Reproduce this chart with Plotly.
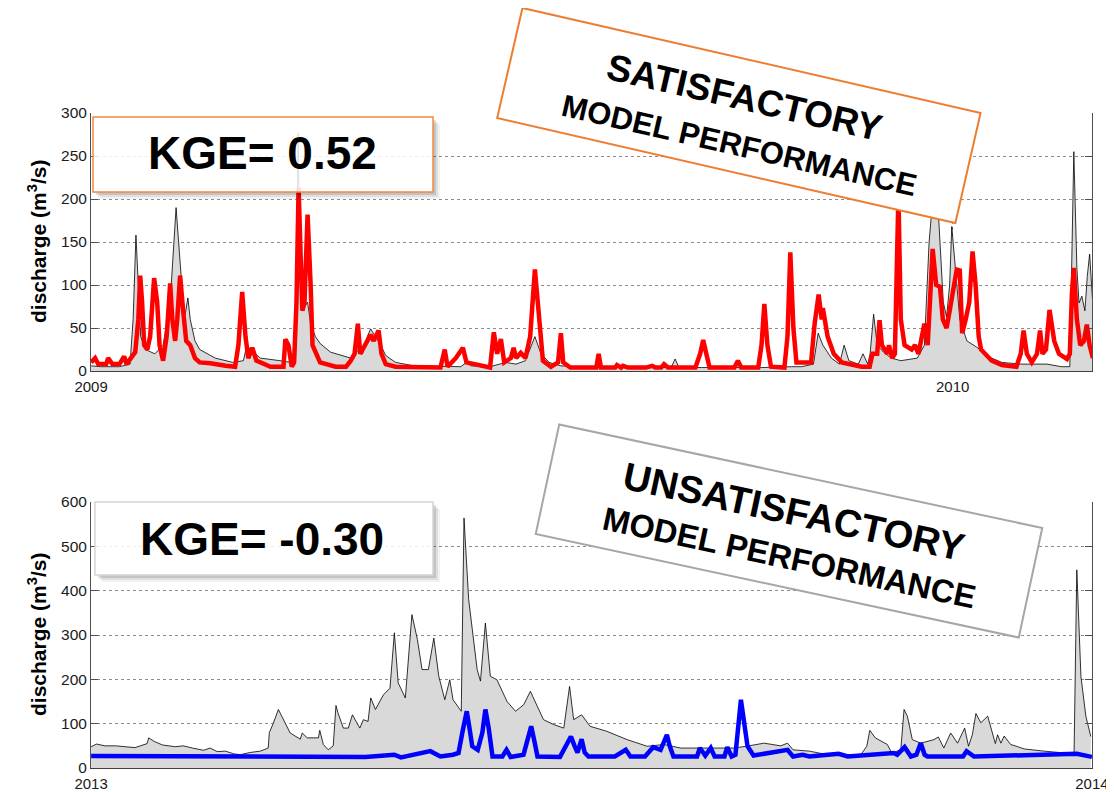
import pandas as pd
import plotly.graph_objects as go

# ---------------- DATA ----------------
# Top panel: 2009-01-01 .. 2010-03-01 (day offsets from 2009-01-01)
top_obs_days = [0, 4, 12, 16.5, 17.8, 19, 20, 21, 23, 27, 30.5, 33.5, 36, 38, 39.5, 41, 42, 44, 46,
                52.6, 60, 64.5, 66, 67.5, 71.7, 80, 84.5, 86.6, 87.7, 88.7, 89.5, 91.7, 93, 95, 97,
                101.4, 108, 110, 112, 113.3, 115, 117, 118.4, 120.5, 122.7, 124.8, 129, 136.7, 148,
                156.6, 159, 161, 169, 175.7, 180, 184, 188, 190.6, 194, 199, 212, 233, 245.7, 247.4,
                249, 258.5, 284, 296.7, 301, 306, 308, 310, 313.6, 317, 319, 321, 325, 327, 329, 330,
                331.5, 333, 335.7, 339, 343, 350, 353, 355, 357, 359, 361, 362.4, 363.7, 364.6, 366,
                368, 371, 375, 381.5, 385.8, 394, 398.5, 405, 411, 414.6, 416.3, 417.6, 418.5, 419.7,
                421, 422, 423, 424, 424.4]
top_obs_q = [6, 5, 5, 8, 60, 158, 100, 40, 25, 20, 30, 80, 190, 120, 60, 85, 60, 35, 25,
             15, 10, 12, 30, 25, 15, 12, 10, 15, 277, 100, 70, 80, 55, 40, 32,
             22, 16, 15, 20, 25, 20, 40, 49, 40, 30, 18, 10, 6, 5,
             5, 10, 6, 5, 10, 8, 12, 40, 20, 10, 6, 4, 4, 4, 14,
             4, 4, 4, 5, 5, 8, 44, 30, 15, 8, 30, 12, 8, 20, 8, 20,
             66, 30, 22, 15, 12, 15, 30, 150, 215, 180, 80, 63, 100, 168, 120,
             60, 35, 28, 15, 10, 8, 8, 8, 5, 5, 255, 120, 79, 87,
             70, 110, 136, 90, 75]

top_sim_days = [0, 1.7, 3, 6.4, 7.2, 9, 12, 14, 15, 17.4, 18.7, 20, 20.8, 21.6, 22.5, 23.8, 25, 26.7,
                28, 29, 30.5, 32, 33.5, 34.4, 35.6, 36.5, 37.7, 39, 40.3, 42, 44, 46, 50.5, 57, 61,
                62.4, 64, 65.4, 66.6, 68.3, 70, 76, 81.5, 82.3, 83.6, 85, 86, 87, 87.9, 88.7, 89.5,
                90.4, 91.7, 93, 93.8, 97, 103.6, 108, 110, 111.6, 113, 114, 116, 118.4, 119.7, 121.8,
                123, 124.8, 129, 148, 149.8, 151, 154.5, 157.5, 159, 169, 170.6, 172, 173.6, 175,
                177.8, 179, 180, 182, 184, 186, 188, 189.7, 191.4, 194.8, 197.8, 199, 200, 203, 214,
                215, 216, 222, 222.8, 224.5, 225.3, 227.5, 235, 237.7, 239, 241.5, 242.7, 244.4, 256,
                258, 259.3, 260.6, 262, 272.5, 274, 275.4, 282.6, 284, 285.2, 286.5, 288, 293.7, 295,
                296.2, 297.5, 298.8, 305, 306.5, 308.2, 309.5, 310, 312, 314.6, 318, 326.4, 329.8,
                331, 333, 334, 335, 337.3, 338, 339.4, 340.5, 342, 343, 344.6, 347.6, 349, 350.5, 352,
                353, 354.4, 355.7, 356.5, 358, 359.6, 360.8, 362.4, 363.7, 365.4, 366.7, 368, 369,
                370.5, 372, 373.4, 374.7, 376, 377, 381.5, 385.8, 392, 393.8, 395, 396.4, 398.5,
                400.7, 402, 403, 404.5, 406, 408, 410, 413.4, 414.6, 415.5, 416.3, 417.6, 419, 420.6,
                421.8, 423, 424.4]
top_sim_q = [10, 15, 8, 8, 15, 8, 8, 17, 8, 18, 22, 60, 111, 80, 30, 25, 40, 108,
             80, 30, 12, 40, 102, 60, 35, 60, 111, 70, 35, 30, 15, 10, 9, 6, 5,
             30, 92, 40, 15, 27, 12, 5, 5, 37, 30, 5, 10, 80, 213, 140, 70,
             80, 182, 100, 30, 10, 5, 5, 12, 20, 55, 20, 30, 42, 35, 47,
             20, 8, 5, 4, 25, 5, 15, 27, 10, 4, 45, 20, 37, 10,
             15, 27, 15, 21, 15, 40, 118, 60, 12, 5, 10, 44, 10, 4, 4,
             20, 4, 4, 7, 4, 6, 4, 4, 6, 4, 4, 8, 4, 4,
             20, 36, 20, 4, 4, 12, 4, 4, 30, 78, 30, 5, 4, 40,
             138, 50, 10, 10, 55, 89, 60, 73, 40, 20, 10, 5, 5,
             20, 20, 59, 30, 20, 30, 15, 20, 205, 60, 30, 25, 30, 20, 40,
             55, 30, 90, 142, 100, 98, 60, 50, 70, 100, 118, 117, 44,
             60, 80, 139, 100, 40, 25, 12, 7, 5, 20, 47, 20, 10,
             20, 47, 20, 25, 71, 35, 20, 14, 20, 90, 120, 60, 30, 35,
             54, 30, 15]

# Bottom panel: 2013-01-01 .. 2014-01-01 (day offsets from 2013-01-01)
bot_obs_days = [0, 2, 5, 9, 12.4, 16, 20.4, 21, 23, 26, 30.7, 33.6, 37, 41, 43.4, 46, 49, 52, 54.4,
                58, 61.7, 64.6, 65, 66.4, 68.3, 70, 72.6, 76.3, 77, 78.8, 82.9, 83.4, 84.7, 86.5,
                88.3, 89.3, 90, 92, 93.8, 95.3, 98, 99.3, 101, 102, 103.7, 106.6, 109, 110.6, 112,
                114.6, 117, 119, 120.7, 123, 125, 126.8, 129, 130.8, 132, 135, 136, 137.7, 140.8,
                142, 143.8, 145.6, 148, 151.7, 154.8, 157.8, 160.2, 165, 168.7, 172.4, 174.5, 176,
                178.9, 182, 188, 195.5, 202.8, 209, 215, 221, 227, 234.4, 239, 245.4, 251.5, 254,
                256, 262, 268.5, 280.7, 282.9, 284, 286, 290.4, 292, 295.3, 296.5, 297.7, 299.5,
                302.6, 307.4, 309, 311, 313.5, 316, 318.6, 320, 321.4, 322.7, 324.5, 327, 329,
                329.8, 330.6, 331.8, 333, 335.4, 337, 340.3, 347.6, 353.7, 358.5, 359.5, 361,
                362.8, 364.6]
bot_obs_q = [48, 54, 50, 50, 48, 46, 55, 68, 60, 52, 48, 50, 45, 40, 45, 37, 38, 32, 30,
             35, 38, 45, 80, 100, 132, 110, 79, 65, 79, 68, 68, 85, 53, 41,
             50, 141, 125, 90, 90, 120, 90, 109, 105, 158, 132, 165, 180, 305, 192,
             158, 346, 290, 222, 222, 293, 207, 154, 199, 154, 128, 564, 380, 222,
             196, 327, 207, 199, 150, 128, 143, 173, 109, 98, 90, 184, 109,
             120, 94, 83, 64, 49, 53, 45, 45, 45, 45, 49, 56, 50, 56,
             41, 38, 30, 30, 49, 85, 68, 53, 34, 41, 132, 117, 64,
             56, 64, 70, 45, 79, 56, 90, 49, 75, 123, 102, 117, 71,
             55, 75, 56, 72, 53, 50, 43, 38, 34, 32, 447, 207,
             117, 71]

bot_sim_days = [0, 60, 100, 110.6, 113, 123.7, 127.4, 132, 134, 135.4, 137, 138, 139, 141, 142.7,
                143.8, 145, 146.4, 150, 151.5, 153, 157.7, 159, 160.5, 161.7, 162.8, 171, 173.7,
                175, 176.3, 177.4, 178.9, 180, 181.4, 191, 195, 196.7, 202, 205, 207.7, 209, 210,
                211, 212.4, 221, 222, 224, 226, 227.4, 231, 232, 233.6, 235, 236, 237, 238, 239.4,
                241.6, 254, 256, 259.5, 262, 272.6, 276, 292.7, 294, 296.7, 299, 301, 302.6, 304,
                305, 318, 319.3, 322, 359.5, 365]
bot_sim_q = [27, 25, 25, 30, 24, 38, 26, 30, 34, 80, 128, 90, 49, 41, 80,
             132, 90, 26, 26, 41, 25, 30, 60, 94, 60, 26, 25, 55,
             71, 50, 35, 65, 35, 26, 26, 41, 26, 26, 47, 41, 60, 75,
             50, 26, 26, 45, 28, 45, 26, 26, 47, 26, 30, 100, 154, 110, 49,
             28, 41, 26, 30, 26, 32, 26, 34, 30, 47, 26, 30, 56, 30,
             26, 26, 38, 26, 32, 25]

top_start, top_end = "2009-01-01", "2010-03-01"
bot_start, bot_end = "2013-01-01", "2014-01-01"
top_kge = "KGE= 0.52"
bot_kge = "KGE= -0.30"
top_verdict = ("SATISFACTORY", "MODEL PERFORMANCE")
bot_verdict = ("UNSATISFACTORY", "MODEL PERFORMANCE")
ytitle = "<b>discharge (m<sup>3</sup>/s)</b>"


def to_dates(start, days):
    return pd.Timestamp(start) + pd.to_timedelta(days, unit="D")


# ---------------- LAYOUT HELPERS ----------------
# the page body adds an 8px margin, so the figure is made 8px smaller and
# all screen positions below are converted into figure coordinates
OFF = 8
W, H = 1114 - OFF, 792 - OFF
PLOT_L, PLOT_R, PLOT_T, PLOT_B = 91, 1092, 113, 768      # screen pixels of the plot area
ML, MT = PLOT_L - OFF, PLOT_T - OFF
MR, MB = W - (PLOT_R - OFF), H - (PLOT_B - OFF)
PW, PH = PLOT_R - PLOT_L, PLOT_B - PLOT_T


def px(xs):
    return (xs - PLOT_L) / PW


def py(ys):
    return (PLOT_B - ys) / PH


FONT = "Liberation Sans, Arial, sans-serif"
OBS_FILL = "#D9D9D9"

fig = go.Figure()

fig.add_trace(go.Scatter(x=to_dates(top_start, top_obs_days), y=top_obs_q, mode="lines",
                         line=dict(color="black", width=0.8), fill="tozeroy",
                         fillcolor=OBS_FILL, xaxis="x", yaxis="y", showlegend=False))
fig.add_trace(go.Scatter(x=to_dates(top_start, top_sim_days), y=top_sim_q, mode="lines",
                         line=dict(color="#FF0000", width=4.5), xaxis="x", yaxis="y",
                         showlegend=False))
fig.add_trace(go.Scatter(x=to_dates(bot_start, bot_obs_days), y=bot_obs_q, mode="lines",
                         line=dict(color="black", width=0.8), fill="tozeroy",
                         fillcolor=OBS_FILL, xaxis="x2", yaxis="y2", showlegend=False))
fig.add_trace(go.Scatter(x=to_dates(bot_start, bot_sim_days), y=bot_sim_q, mode="lines",
                         line=dict(color="#0000FF", width=4.5), xaxis="x2", yaxis="y2",
                         showlegend=False))

common_x = dict(showgrid=True, griddash="dot", gridcolor="#8c8c8c", gridwidth=1,
                showline=True, linecolor="#404040", linewidth=1, mirror=False,
                ticks="", tickformat="%Y", dtick="M12", automargin=False,
                tickfont=dict(family=FONT, size=15, color="#1a1a1a"),
                zeroline=False, ticklabelstandoff=2, ticklabeloverflow="allow")
common_y = dict(showgrid=True, griddash="dot", gridcolor="#8c8c8c", gridwidth=1,
                showline=True, linecolor="#505050", linewidth=1, mirror="allticks",
                ticks="inside", ticklen=7, tickcolor="#505050", automargin=False,
                tickfont=dict(family=FONT, size=15.5, color="#1a1a1a"),
                zeroline=False)

fig.update_layout(
    width=W, height=H,
    margin=dict(l=ML, r=MR, t=MT, b=MB),
    paper_bgcolor="white", plot_bgcolor="white",
    xaxis=dict(domain=[0, 1], anchor="y",
               range=[pd.Timestamp(top_start) - pd.Timedelta(hours=1), top_end], **common_x),
    yaxis=dict(domain=[py(371), 1], anchor="x", range=[0, 300], dtick=50, **common_y),
    xaxis2=dict(domain=[0, 1], anchor="y2",
                range=[pd.Timestamp(bot_start) - pd.Timedelta(hours=1),
                       pd.Timestamp(bot_end) + pd.Timedelta(hours=1)], **common_x),
    yaxis2=dict(domain=[0, py(502)], anchor="x2", range=[0, 600], dtick=100, **common_y),
)

shapes = []
annotations = []

# y-axis titles
for cy in (242, 635):
    annotations.append(dict(xref="paper", yref="paper", x=px(37), y=py(cy),
                            xanchor="center", yanchor="middle", showarrow=False,
                            text=ytitle, textangle=-90,
                            font=dict(family=FONT, size=21, color="black")))


def kge_box(x0, y0, x1, y1, border, text, tx, ty):
    # soft drop shadow along right and bottom edges
    for off, alpha in [(7, 0.05), (5, 0.08), (3, 0.12)]:
        shapes.append(dict(type="rect", xref="paper", yref="paper",
                           x0=px(x1), x1=px(x1 + off), y0=py(y1 + off), y1=py(y0 + off),
                           line=dict(width=0), fillcolor=f"rgba(0,0,0,{alpha})", layer="above"))
        shapes.append(dict(type="rect", xref="paper", yref="paper",
                           x0=px(x0 + off), x1=px(x1), y0=py(y1 + off), y1=py(y1),
                           line=dict(width=0), fillcolor=f"rgba(0,0,0,{alpha})", layer="above"))
    shapes.append(dict(type="rect", xref="paper", yref="paper",
                       x0=px(x0), x1=px(x1), y0=py(y1), y1=py(y0),
                       line=dict(color=border, width=1.5),
                       fillcolor="rgba(255,255,255,0.85)", layer="above"))
    annotations.append(dict(xref="paper", yref="paper", x=px(tx), y=py(ty),
                            xanchor="center", yanchor="middle", showarrow=False,
                            text=f"<b>{text}</b>",
                            font=dict(family=FONT, size=46, color="black")))


kge_box(93, 117, 433, 192, "#EE8A45", top_kge, 262, 153)
kge_box(95, 502, 433, 575, "#D5D5D5", bot_kge, 262, 539)


def verdict_box(cx, cy, w, h, angle, border, lines, centers, sizes):
    annotations.append(dict(xref="paper", yref="paper", x=px(cx), y=py(cy),
                            xanchor="center", yanchor="middle", showarrow=False,
                            text=" ", width=w - 4, height=h - 4, textangle=angle,
                            bgcolor="white", bordercolor=border, borderwidth=2, borderpad=0))
    for t, (tx, ty), s in zip(lines, centers, sizes):
        annotations.append(dict(xref="paper", yref="paper", x=px(tx), y=py(ty),
                                xanchor="center", yanchor="middle", showarrow=False,
                                text=f"<b>{t}</b>", textangle=angle,
                                font=dict(family=FONT, size=s, color="black")))


verdict_box(739, 115, 472, 115, 12.9, "#ED7D31", top_verdict,
            [(744, 97), (739, 145)], [37, 31])
verdict_box(789, 531, 496, 114, 12.1, "#A6A6A6", bot_verdict,
            [(794, 511), (789, 558)], [38.5, 32.5])

fig.update_layout(shapes=shapes, annotations=annotations)

fig.write_html("out.html")
